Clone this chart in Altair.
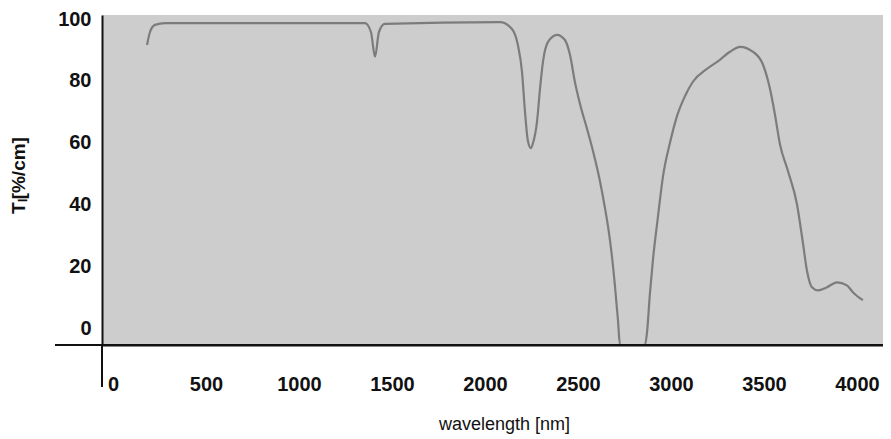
import altair as alt
import pandas as pd

wavelength = [183, 199, 226, 280, 737, 1355, 1387, 1409, 1430, 1462, 2081, 2145, 2177, 2199,
              2215, 2231, 2247, 2258, 2280, 2296, 2312, 2339, 2387, 2430, 2457, 2484, 2511,
              2548, 2581, 2618, 2645, 2665, 2683, 2699, 2715, 2726, 2860, 2871, 2887, 2903, 2930,
              2957, 2995, 3032, 3075, 3118, 3194, 3263, 3317, 3371, 3441, 3495, 3532, 3559,
              3586, 3629, 3677, 3710, 3731, 3758, 3790, 3839, 3892, 3946, 3978, 4032]
transmission = [91.6, 95.8, 98.1, 98.7, 98.7, 98.7, 95.8, 87.8, 95.8, 98.4, 99.0, 96.8, 91.6, 83.0,
                70.1, 60.5, 58.2, 59.8, 66.9, 77.5, 86.2, 92.6, 94.9, 93.2, 88.4, 79.5, 72.5,
                64.6, 57.2, 47.6, 38.9, 31.5, 23.0, 13.5, 2.6, -5.5, -5.5, -1.6, 11.3, 22.0, 36.0,
                49.0, 60.0, 68.5, 75.0, 79.7, 83.9, 86.8, 89.4, 91.0, 89.4, 85.2, 77.5, 69.1,
                59.5, 50.8, 40.2, 27.3, 18.6, 13.2, 12.2, 13.2, 14.8, 13.8, 11.6, 9.0]
x_ticks = [0, 500, 1000, 1500, 2000, 2500, 3000, 3500, 4000]
y_ticks = [0, 20, 40, 60, 80, 100]

df = pd.DataFrame({"wl": wavelength, "T": transmission})

W, H = 781, 330
FONT = "Liberation Sans"

line = alt.Chart(df).mark_line(color="#7c7c7c", strokeWidth=2.2, interpolate="monotone", clip=True).encode(
    x=alt.X("wl:Q", scale=alt.Scale(domain=[-59, 4140], nice=False, zero=False),
            axis=alt.Axis(values=x_ticks, format="d", title="wavelength [nm]", grid=False, ticks=False, tickSize=0,
                          domain=True, domainColor="#111111", domainWidth=2,
                          labelFont=FONT, labelFontSize=20, labelFontWeight="bold", labelColor="#111111",
                          labelBaseline="middle", labelPadding=39, labelFlush=False,
                          titleFont=FONT, titleFontSize=18, titleFontWeight="normal", titleColor="#111111",
                          titleX=402, titleY=79, titleBaseline="middle")),
    y=alt.Y("T:Q", scale=alt.Scale(domain=[-5.5, 101.3], nice=False, zero=False),
            axis=alt.Axis(values=y_ticks, format="d", title="Tₗ[%/cm]", grid=False, ticks=False, tickSize=0,
                          domain=True, domainColor="#111111", domainWidth=2,
                          labelFont=FONT, labelFontSize=20, labelFontWeight="bold", labelColor="#111111",
                          labelPadding=11, labelFlush=False,
                          titleFont=FONT, titleFontSize=19, titleFontWeight="bold", titleColor="#111111",
                          titleX=-84, titleY=160, titleBaseline="middle", titleAngle=-90)),
)

yext = alt.Chart(df).mark_rule(color="#111111", strokeWidth=2).encode(
    x=alt.value(0), y=alt.value(H), y2=alt.value(H + 42))
xext = alt.Chart(df).mark_rule(color="#111111", strokeWidth=2).encode(
    x=alt.value(-47), x2=alt.value(W), y=alt.value(H))

chart = alt.layer(line, yext, xext).properties(
    width=W, height=H,
    padding={"left": 94, "top": 7, "right": 0, "bottom": 92},
    autosize=alt.AutoSizeParams(type="none"),
    background="white",
).configure_view(fill="#cdcdcd", stroke=None)

chart.save("out.html", embed_options={"renderer": "svg", "actions": False})
